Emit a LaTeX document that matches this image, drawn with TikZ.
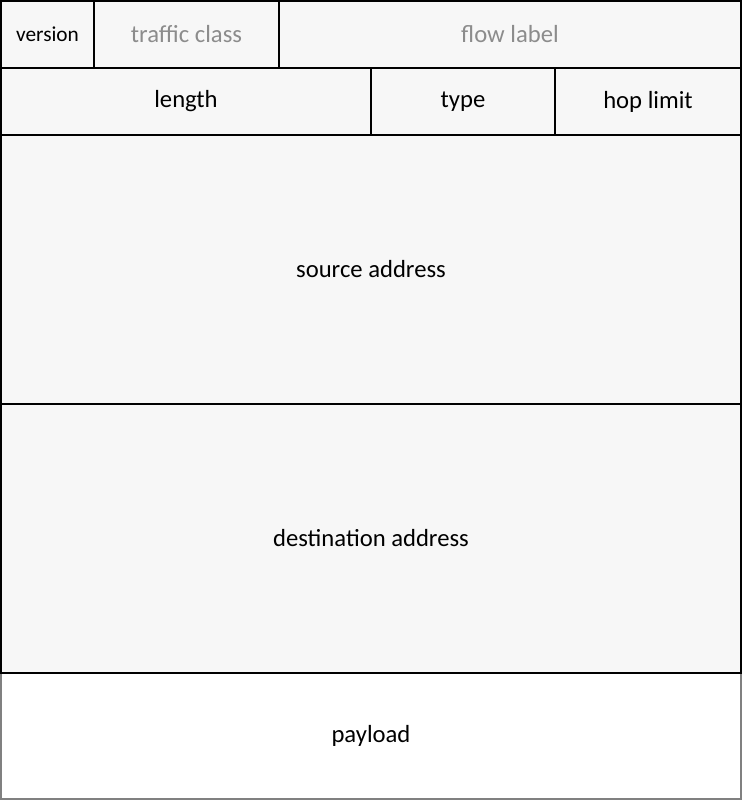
\documentclass[tikz,border=0pt]{standalone}
\usepackage{fontspec}
\setmainfont{Carlito}
\definecolor{CellGray}{RGB}{247,247,247}
\definecolor{FieldGray}{RGB}{140,140,140}
\definecolor{EdgeGray}{RGB}{128,128,128}
\begin{document}
\begin{tikzpicture}[x=0.75pt, y=-0.75pt,
    every node/.style={font=\fontsize{18.5}{22}\selectfont, align=center},
    field/.style={draw=black, line width=1.2pt, fill=CellGray},
    unused/.style={text=FieldGray}
]
\useasboundingbox (0,0) rectangle (742,800);
% Nutzlast
\draw[draw=EdgeGray, line width=1.5pt, fill=white] (1,673) rectangle node (payload) {payload} (741,799);
% Zeile 1
\draw[field] (1,1) rectangle node[font=\fontsize{16}{19}\selectfont] (version) {version} (94,68);
\foreach \xa/\xb/\name/\label in {94/279/tclass/{traffic class}, 279/741/flow/{flow label}} {
    \draw[field] (\xa,1) rectangle node[unused] (\name) {\label} (\xb,68);
}
% Zeile 2
\foreach \xa/\xb/\name/\label in {1/371/length/length, 371/555/type/type, 555/741/hop/{hop limit}} {
    \draw[field] (\xa,68) rectangle node (\name) {\label} (\xb,135);
}
% Adressen
\foreach \ya/\yb/\name/\label in {135/404/src/{source address}, 404/673/dst/{destination address}} {
    \draw[field] (1,\ya) rectangle node (\name) {\label} (741,\yb);
}
\end{tikzpicture}
\end{document}
